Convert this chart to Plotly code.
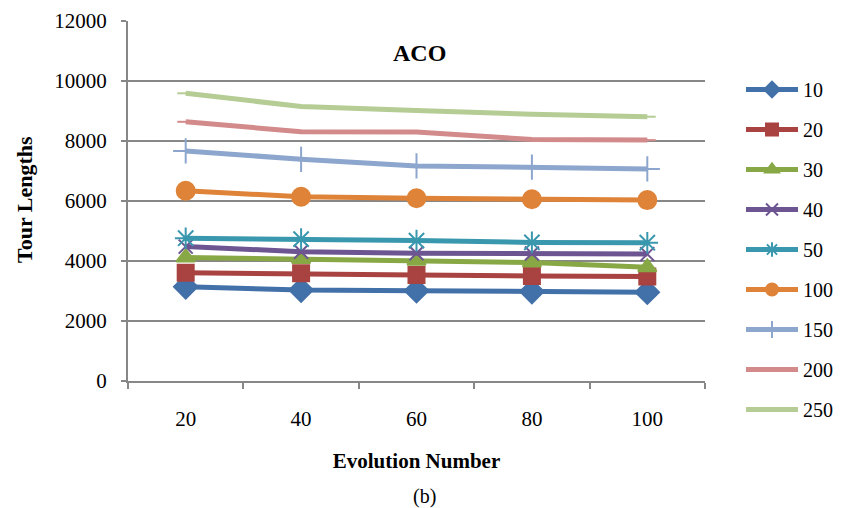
import plotly.graph_objects as go

categories = ["20", "40", "60", "80", "100"]
series_names = ["10", "20", "30", "40", "50", "100", "150", "200", "250"]
s10 = [3140, 3030, 3010, 2980, 2960]
s20 = [3610, 3590, 3530, 3500, 3480]
s30 = [4120, 4070, 4010, 3950, 3790]
s40 = [4480, 4310, 4260, 4250, 4230]
s50 = [4760, 4730, 4680, 4620, 4610]
s100 = [6340, 6140, 6090, 6060, 6030]
s150 = [7670, 7390, 7170, 7130, 7070]
s200 = [8640, 8310, 8300, 8050, 8030]
s250 = [9590, 9150, 9020, 8890, 8810]
values = [s10, s20, s30, s40, s50, s100, s150, s200, s250]

colors = ["#4270A8", "#A84341", "#88A845", "#6D5592", "#3A98AE",
          "#DE8338", "#8DA6CD", "#D38A8A", "#B5CC94"]
symbols = ["diamond", "square", "triangle-up", "x-thin-open", "asterisk-open",
           "circle", "cross-thin-open", "line-ew-open", "line-ew-open"]
sizes = [18, 16, 16, 14, 18, 18, 18, 12, 12]

font_family = "Liberation Serif"

# The page body has an 8px default margin, so the figure is drawn 8px
# smaller and everything is laid out in page pixels minus 8.
OFF = 8
W, H = 842 - OFF, 508 - OFF
plot_left, plot_right, plot_top, plot_bottom = 128, 705, 21, 381  # page px (axes)
gs_bottom = 441  # page px; extra room below so the legend fits without scrolling
pw = plot_right - plot_left
gh = gs_bottom - plot_top


def py(page_y):
    return (gs_bottom - page_y) / gh


def px(page_x):
    return (page_x - plot_left) / pw


fig = go.Figure()
for i, (name, vals) in enumerate(zip(series_names, values)):
    fig.add_trace(go.Scatter(
        x=categories, y=vals, name=name, mode="lines+markers",
        line=dict(color=colors[i], width=5),
        marker=dict(symbol=symbols[i], size=sizes[i], color=colors[i],
                    line=dict(color=colors[i], width=2)),
        legendgroup=name,
    ))

axis_gray = "#878787"
fig.update_layout(
    width=W, height=H,
    margin=dict(l=plot_left - OFF, r=842 - plot_right, t=plot_top - OFF,
                b=508 - gs_bottom, autoexpand=False),
    paper_bgcolor="white", plot_bgcolor="white",
    font=dict(family=font_family, size=21, color="black"),
    showlegend=True,
    legend=dict(x=px(741), xanchor="left", y=py(70), yanchor="top",
                font=dict(family=font_family, size=20, color="black"),
                tracegroupgap=11, itemwidth=52, itemsizing="constant",
                bgcolor="rgba(0,0,0,0)"),
    xaxis=dict(type="category", range=[-0.5, 4.5], tickson="boundaries",
               ticks="outside", ticklen=6, tickcolor=axis_gray, tickwidth=2,
               showline=True, linecolor=axis_gray, linewidth=2,
               showgrid=False, ticklabelstandoff=18,
               tickfont=dict(family=font_family, size=21),
               title=dict(text="<b>Evolution Number</b>", standoff=23,
                          font=dict(family=font_family, size=21))),
    yaxis=dict(range=[0, 12000], dtick=2000, tickformat="d", ticks="outside",
               domain=[py(plot_bottom), 1],
               ticklen=5, tickcolor=axis_gray, tickwidth=2,
               showline=True, linecolor=axis_gray, linewidth=2,
               showgrid=True, gridcolor=axis_gray, gridwidth=1.5,
               zeroline=False, ticklabelstandoff=10,
               tickfont=dict(family=font_family, size=21)),
    annotations=[
        dict(text="<b>ACO</b>", x=px(420), y=py(53),
             xref="paper", yref="paper",
             xanchor="center", yanchor="middle", showarrow=False,
             font=dict(family=font_family, size=24, color="black")),
        dict(text="<b>Tour Lengths</b>", x=px(24), y=py(200),
             xref="paper", yref="paper", textangle=-90,
             xanchor="center", yanchor="middle", showarrow=False,
             font=dict(family=font_family, size=22, color="black")),
        dict(text="(b)", x=px(424), y=py(496),
             xref="paper", yref="paper", xanchor="center", yanchor="middle",
             showarrow=False, font=dict(family=font_family, size=20)),
    ],
)

fig.write_html("out.html")
